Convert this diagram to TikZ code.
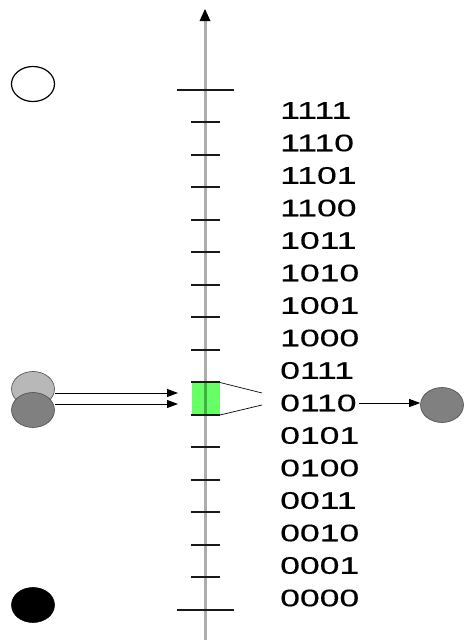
\documentclass[tikz,border=0pt]{standalone}
\usepackage{fontspec}
\setmainfont{Liberation Sans}[FakeBold=0.35]
\usetikzlibrary{arrows.meta,shapes.geometric}
\begin{document}
\begin{tikzpicture}[x=1pt,y=-1pt,
  blob/.style={ellipse,draw=black!70,line width=0.6pt,minimum width=43pt,minimum height=35pt,inner sep=0pt},
  lbl/.style={anchor=west,inner sep=0pt,font=\fontsize{24}{28}\selectfont},
  tick/.style={line width=2pt,black!90},
  arr/.style={line width=0.8pt,-{Triangle[length=11pt,width=8pt]}}]
\useasboundingbox (0,0) rectangle (466,640);
% green cell
\fill[green!60!white] (192,382.5) rectangle (220,415);
% axis
\draw[line width=3pt,black,opacity=0.32] (205,640) -- (205,20);
\fill (205,9) -- (199.5,21) -- (210.5,21) -- cycle;
% ticks
\draw[tick] (177,90) -- (234,90);
\draw[tick] (177,610) -- (234,610);
\foreach \k in {1,...,15} {
  \pgfmathsetmacro{\yy}{floor(90+32.5*\k)}
  \draw[tick] (191,\yy) -- (220,\yy);
}
% labels
\foreach \t [count=\i from 0] in {1111,1110,1101,1100,1011,1010,1001,1000,0111,0110,0101,0100,0011,0010,0001,0000}
  \node[lbl] (l\t) at (280,110.5+32.5*\i) {\scalebox{1.48}[1]{\t}};
% funnel lines
\coordinate (ftop) at (262,393);
\coordinate (fbot) at (262,405);
\draw[line width=0.7pt] (220,382.5) -- (ftop);
\draw[line width=0.7pt] (220,415) -- (fbot);
% left blobs
\node[blob,fill=black!28] (light) at (33,389) {};
\node[blob,fill=black!50] (dark) at (33,410) {};
\node[blob,draw=black,line width=1.2pt,fill=white] (white) at (33,84) {};
\node[blob,draw=black,fill=black] (black) at (33,605) {};
\node[blob,fill=black!50] (out) at (442,405) {};
% arrows
\coordinate (a1) at (178,393);
\coordinate (a2) at (178,404);
\draw[arr] (light.east |- a1) -- (a1);
\draw[arr] (dark.east |- a2) -- (a2);
\draw[arr] ([xshift=2pt]l0110.east) -- (out.west |- l0110.east);
\end{tikzpicture}
\end{document}
